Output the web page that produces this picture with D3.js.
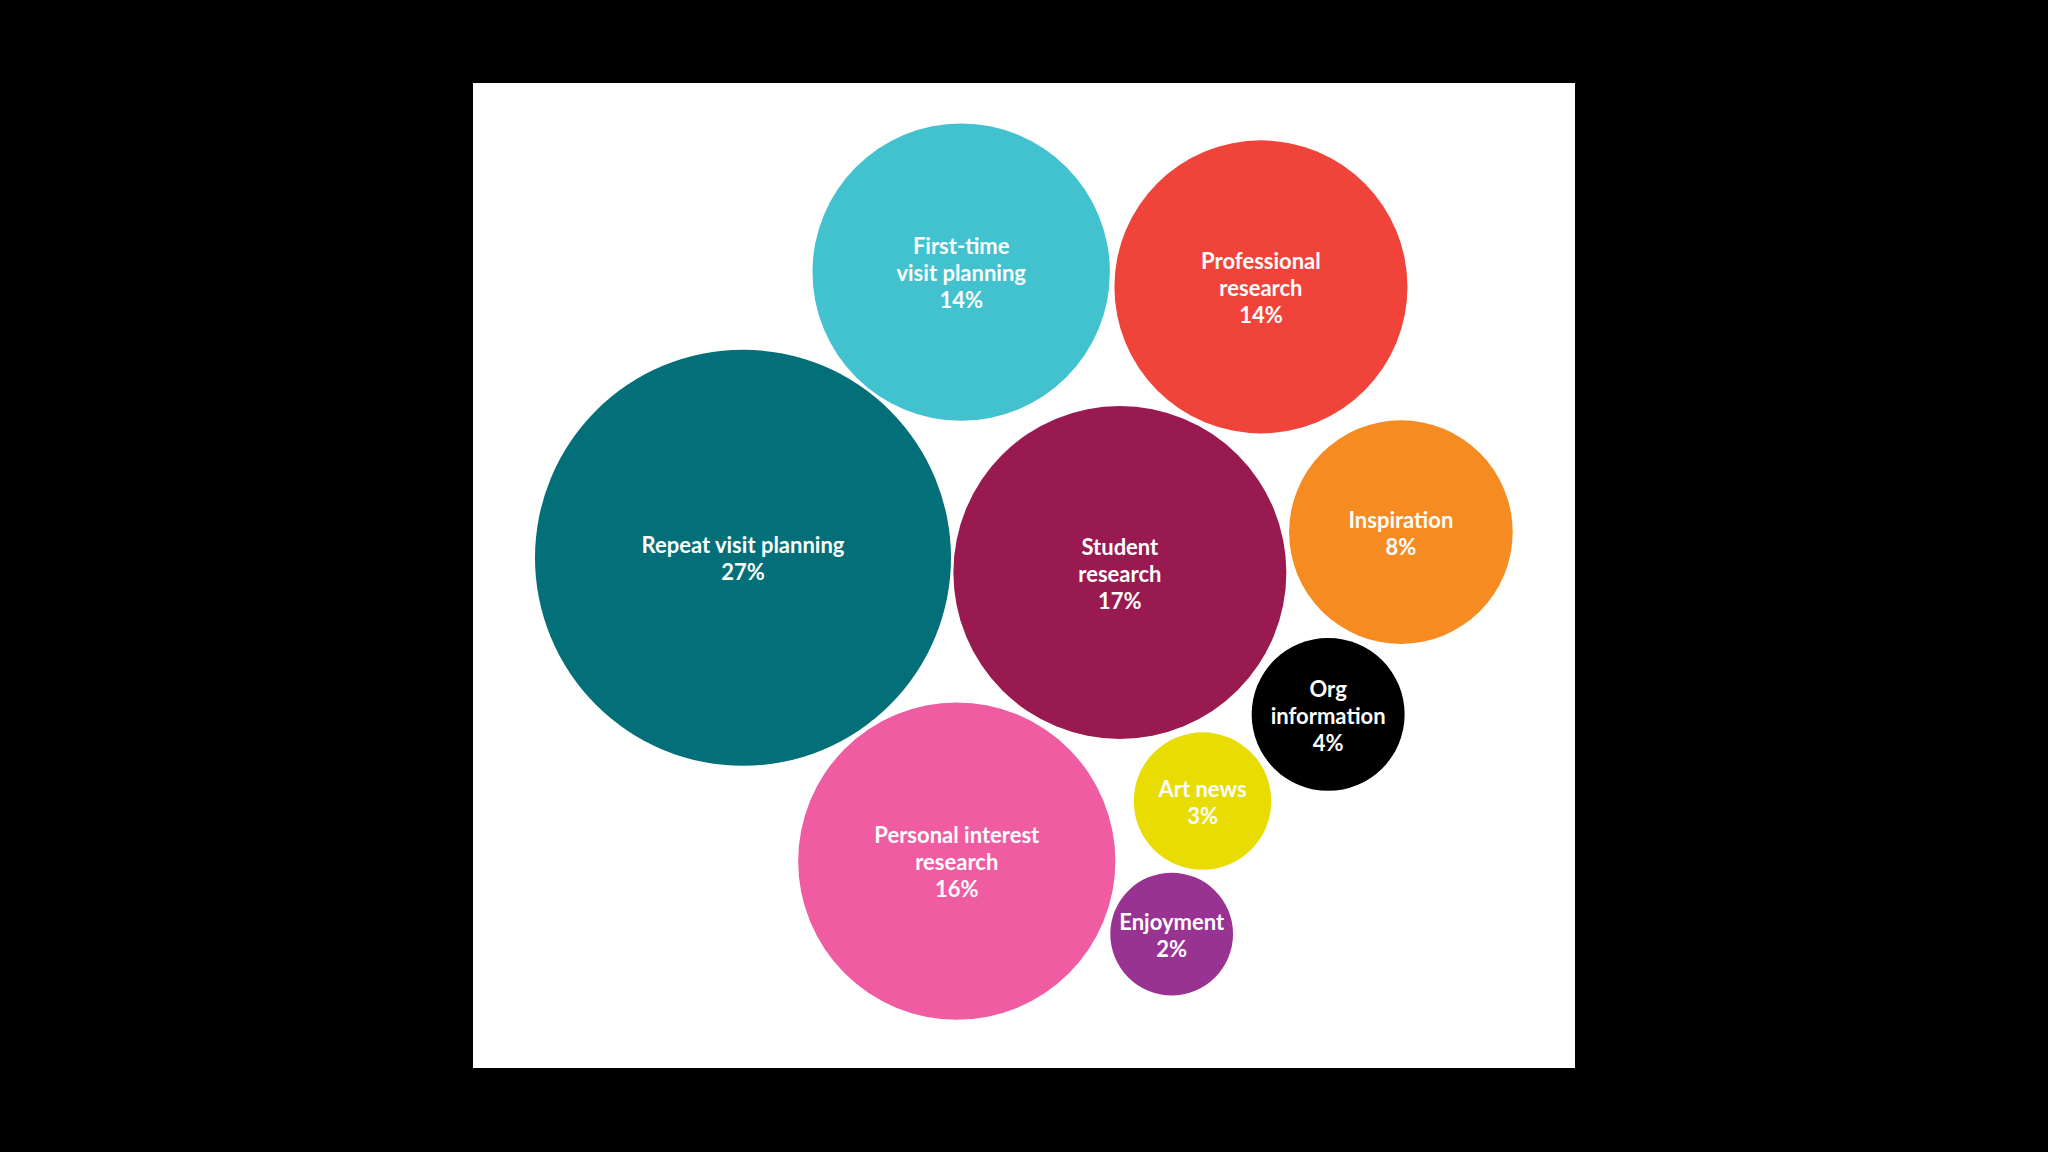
<!DOCTYPE html>
<html>
<head>
<meta charset="utf-8">
<script src="https://cdn.jsdelivr.net/npm/d3@7"></script>
<style>
  html, body { margin: 0; padding: 0; background: #000; }
  svg { display: block; }
</style>
</head>
<body>
<svg id="chart"></svg>
<script>
// reasons for visiting, share of visitors
var names = ["Repeat visit planning", "Student\nresearch", "Personal interest\nresearch",
  "First-time\nvisit planning", "Professional\nresearch", "Inspiration",
  "Org\ninformation", "Art news", "Enjoyment"];
var pct = [27, 17, 16, 14, 14, 8, 4, 3, 2];
// bubble area (labels are rounded)
var share = [27.0, 17.3, 15.7, 13.8, 13.4, 7.8, 3.65, 2.95, 2.35];
// where each bubble sits on the board, 0-100 each way
var posX = [24.5, 58.7, 43.9, 44.3, 71.5, 84.2, 77.6, 66.2, 63.4];
var posY = [48.2, 49.7, 79.0, 19.2, 20.7, 45.6, 64.1, 72.9, 86.4];
var colors = ["#026f79", "#981a50", "#ef5ca2", "#42c1ce", "#f04339",
  "#f68c21", "#000000", "#e9dc03", "#993391"];

var W = 2048, H = 1152;
var board = { left: 473, top: 83, right: 1575, bottom: 1068 };

var svg = d3.select("#chart")
  .attr("width", W)
  .attr("height", H);

svg.append("rect")
  .attr("x", board.left)
  .attr("y", board.top)
  .attr("width", board.right - board.left)
  .attr("height", board.bottom - board.top)
  .attr("fill", "#fff");

var x = d3.scaleLinear().domain([0, 100]).range([board.left, board.right]);
var y = d3.scaleLinear().domain([0, 100]).range([board.top, board.bottom]);
var r = d3.scaleSqrt().domain([0, 27]).range([0, 208]);

var data = names.map(function(n, i) {
  return { name: n, pct: pct[i], share: share[i], px: posX[i], py: posY[i], color: colors[i] };
});

var bubble = svg.selectAll(".bubble")
  .data(data)
  .enter()
  .append("g")
  .attr("class", "bubble")
  .attr("transform", function(d) { return "translate(" + x(d.px) + "," + y(d.py) + ")"; });

bubble.append("circle")
  .attr("r", function(d) { return r(d.share); })
  .attr("fill", function(d) { return d.color; });

var lineH = 27;
bubble.append("text")
  .attr("text-anchor", "middle")
  .attr("fill", "#fdfdfd")
  .style("font-family", "Lato, 'Noto Sans', sans-serif")
  .style("font-weight", 700)
  .style("font-size", "22px")
  .each(function(d) {
    var lines = d.name.split("\n").concat([d.pct + "%"]);
    var t = d3.select(this);
    var y0 = -(lines.length - 1) * lineH / 2;
    lines.forEach(function(l, i) {
      t.append("tspan")
        .attr("x", 0)
        .attr("y", y0 + i * lineH + 1.5)
        .attr("dy", "0.35em")
        .text(l);
    });
  });
</script>
</body>
</html>
